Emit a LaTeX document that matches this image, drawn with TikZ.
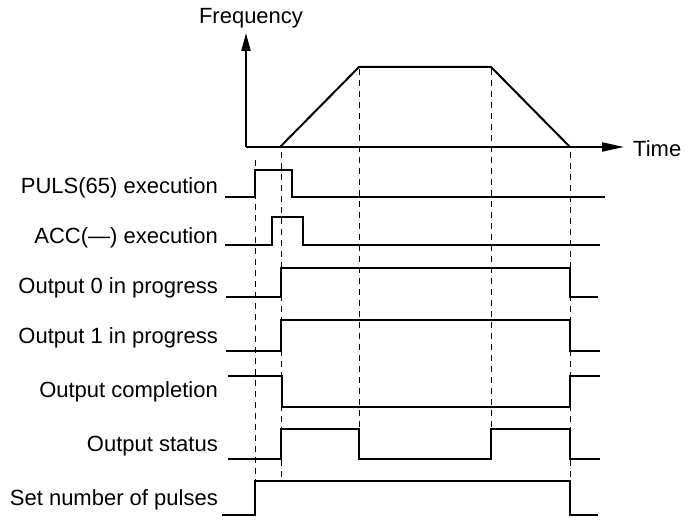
\documentclass[tikz,border=0pt]{standalone}
\usepackage{fontspec}
\setmainfont{Liberation Sans}
\usetikzlibrary{arrows.meta}
\begin{document}
\begin{tikzpicture}[x=1pt,y=-1pt,
  sig/.style={line width=2pt},
  dsh/.style={line width=0.9pt,dash pattern=on 6pt off 5pt},
  txt/.style={font=\fontsize{22}{24}\selectfont,inner sep=0pt},
  lbl/.style={txt,anchor=east}]
\useasboundingbox (0,0) rectangle (692,526);
% axes
\coordinate (o) at (246,147);
\coordinate (ytop) at (246,33);
\coordinate (xend) at (624,147);
\draw[sig,-{Triangle[length=18pt,width=9pt]}] (o) -- (ytop);
\draw[sig,-{Triangle[length=22pt,width=9pt]}] (o) -- (xend);
\node[txt] (fq) at (251,18) {Frequency};
\node[txt,anchor=west] (tm) at (633,149) {Time};
\draw[sig] (280,147) -- (359,67) -- (491,67) -- (570,147);
% dashed
\draw[dsh] (255,160) -- (255,500);
\draw[dsh] (281,152) -- (281,480);
\draw[dsh] (359,69) -- (359,430);
\draw[dsh] (491,69) -- (491,430);
\draw[dsh] (570,152) -- (570,480);
% labels
\node[lbl] (l1) at (218,188) {PULS(65) execution};
\node[lbl] (l2) at (218,238) {ACC(—) execution};
\node[lbl] (l3) at (218,288) {Output 0 in progress};
\node[lbl] (l4) at (218,338) {Output 1 in progress};
\node[lbl] (l5) at (218,392) {Output completion};
\node[lbl] (l6) at (218,446) {Output status};
\node[lbl] (l7) at (218,500) {Set number of pulses};
% signals
\draw[sig] (225,197) -- (255,197) -- (255,170) -- (292,170) -- (292,197) -- (605,197);
\draw[sig] (225,245) -- (272,245) -- (272,217) -- (303,217) -- (303,245) -- (600,245);
\draw[sig] (226,297) -- (281,297) -- (281,268) -- (570,268) -- (570,297) -- (598,297);
\draw[sig] (226,351) -- (281,351) -- (281,320) -- (570,320) -- (570,351) -- (600,351);
\draw[sig] (228,376) -- (282,376) -- (282,407) -- (570,407) -- (570,376) -- (600,376);
\draw[sig] (228,459) -- (281,459) -- (281,429) -- (359,429) -- (359,459) -- (491,459) -- (491,429) -- (570,429) -- (570,459) -- (600,459);
\draw[sig] (222,515) -- (255,515) -- (255,481) -- (570,481) -- (570,515) -- (598,515);
\end{tikzpicture}
\end{document}
